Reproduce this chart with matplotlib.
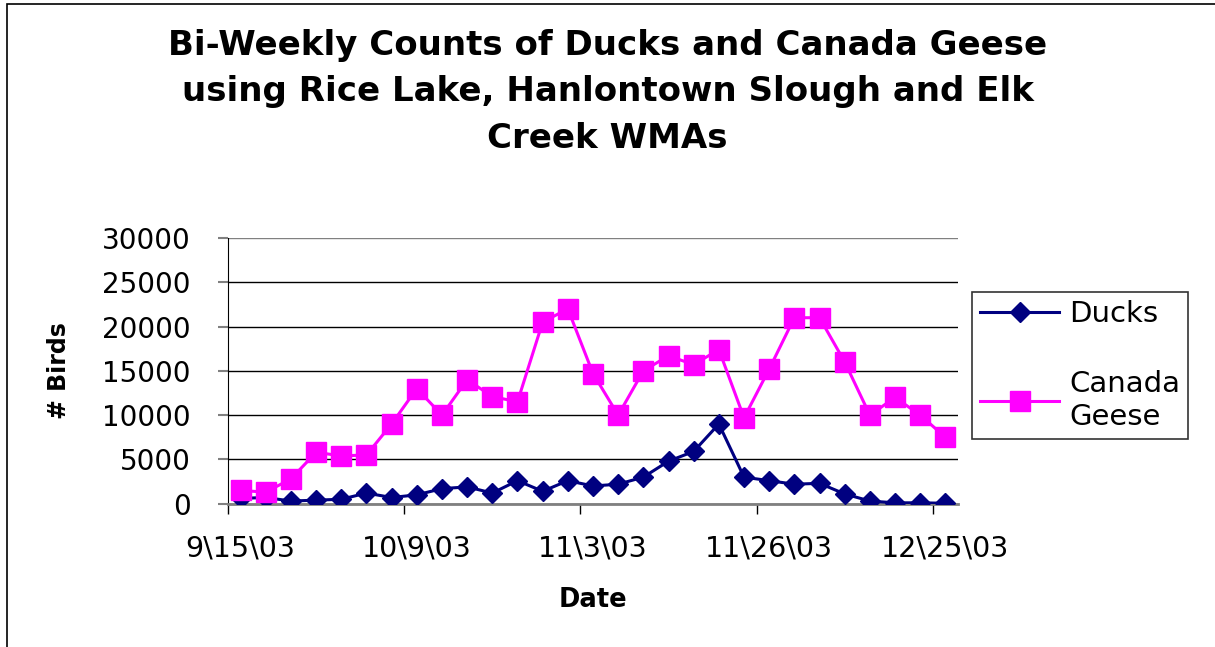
import matplotlib.pyplot as plt
from matplotlib.patches import Rectangle
from matplotlib.ticker import FixedLocator

plt.rcParams['font.family'] = ['DejaVu Sans']

# 29 counts, roughly twice a week, 9/15/03 - 12/25/03
date_labels = ["9\\15\\03", "10\\9\\03", "11\\3\\03", "11\\26\\03", "12\\25\\03"]
label_every = 7

ducks = [600, 700, 300, 400, 500, 1200, 700, 1000, 1700, 1900, 1200, 2600, 1400, 2600, 2000,
         2200, 3000, 4800, 5900, 9000, 3000, 2600, 2200, 2300, 1100, 300, 100, 100, 50]
geese = [1500, 1300, 2800, 5800, 5400, 5500, 9000, 13000, 10000, 14000, 12100, 11500, 20500, 22000, 14700,
         10000, 15000, 16700, 15700, 17400, 9700, 15200, 21000, 21000, 16000, 10000, 12000, 10000, 7500]

fig = plt.figure(figsize=(12.15, 6.47), dpi=100)
fig.patches.append(Rectangle((7 / 1215, -0.1), 1.2, 1.1 - 4 / 647, transform=fig.transFigure,
                             fill=False, edgecolor='black', linewidth=1.2))

ax = fig.add_axes([228 / 1215, 1 - 503.7 / 647, 730 / 1215, (503.7 - 238) / 647])
x = list(range(len(ducks)))
ax.plot(x, ducks, color='#000080', marker='D', markersize=10.5, linewidth=2.2, label='Ducks', zorder=3)
ax.plot(x, geese, color='#FF00FF', marker='s', markersize=14, linewidth=2.2, label='Canada\nGeese', zorder=3)

ax.set_xlim(-0.5, len(ducks) - 0.5)
ax.set_ylim(0, 30000)
ax.set_yticks(range(0, 30001, 5000))
ax.yaxis.grid(True, color='black', linewidth=1.0)
ax.get_ygridlines()[-1].set_color('#808080')
ax.set_axisbelow(True)

ax.set_xticks(range(0, len(ducks), label_every))
ax.set_xticklabels(date_labels)
ax.xaxis.set_minor_locator(FixedLocator([i - 0.5 for i in range(0, len(ducks) + 1, label_every)]))
ax.tick_params(axis='x', which='major', length=0, pad=22, labelsize=20.5)
ax.tick_params(axis='x', which='minor', length=7, direction='out', color='black', width=1)
ax.tick_params(axis='y', length=7, direction='out', color='#808080', width=1.5, labelsize=20, pad=20)

ax.spines['top'].set_visible(False)
ax.spines['right'].set_visible(False)
ax.spines['left'].set_color('black')
ax.spines['bottom'].set_color('#808080')
ax.spines['bottom'].set_linewidth(2)

ax.set_ylabel("# Birds", fontsize=17, fontweight='bold', labelpad=22)
ax.set_xlabel("Date", fontsize=18.5, fontweight='bold', labelpad=18)

fig.text(0.5, 1 - 92 / 647, "Bi-Weekly Counts of Ducks and Canada Geese\nusing Rice Lake, Hanlontown Slough and Elk\nCreek WMAs",
         ha='center', va='center', fontsize=24.5, fontweight='bold', linespacing=1.5)

leg = fig.legend(loc='upper left', bbox_to_anchor=(972 / 1215, 1 - 292 / 647), fontsize=21,
                 frameon=True, fancybox=False, edgecolor='black', borderpad=0.28, labelspacing=1.45,
                 handlelength=2.7, handletextpad=0.35, borderaxespad=0)
leg.get_frame().set_linewidth(1.2)

fig.savefig("out.png", dpi=100)
